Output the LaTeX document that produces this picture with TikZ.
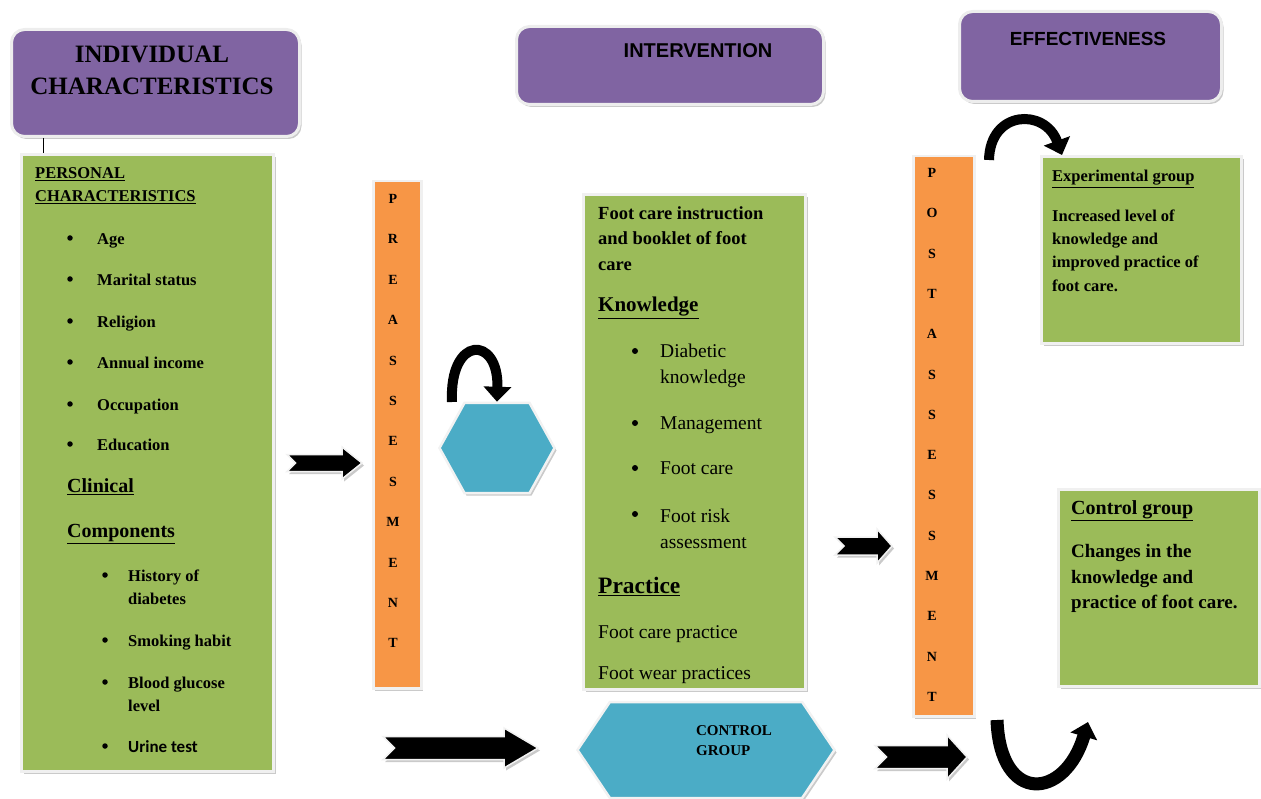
\documentclass[tikz,border=0pt]{standalone}
\usepackage{fontspec}
\setmainfont{Liberation Serif}
\setsansfont{Liberation Sans}
\newfontfamily\calibrifont{Carlito}
\usetikzlibrary{shapes.symbols,shadows,arrows.meta}

\definecolor{headpurple}{HTML}{8064A2}
\definecolor{boxgreen}{HTML}{9BBB59}
\definecolor{barorange}{HTML}{F79646}
\definecolor{hexblue}{HTML}{4BACC6}

\tikzset{
  softshadow/.style={drop shadow={shadow xshift=2pt,shadow yshift=-2.5pt,opacity=.35,fill=black!60}},
  headbox/.style={rectangle, rounded corners=13pt, fill=headpurple, draw=black!7, line width=3pt, softshadow, anchor=north west, inner sep=0pt},
  greenbox/.style={rectangle, fill=boxgreen, draw=black!6, line width=3pt, softshadow, anchor=north west, inner sep=0pt},
  orangebar/.style={rectangle, fill=barorange, draw=black!6, line width=2.5pt, softshadow, anchor=north west, inner sep=0pt},
  hexa/.style={signal, signal to=east and west, fill=hexblue, draw=black!5, line width=2.5pt, softshadow, inner sep=0pt},
  txt/.style={anchor=mid west, inner sep=0pt, yshift=-4.5pt},
  blk/.style={anchor=west, inner sep=0pt, align=left, yshift=-1.5pt},
  dot/.style={circle, fill=black, inner sep=0pt, minimum size=5.5pt},
  letter/.style={inner sep=0pt, font=\fontsize{14}{14}\selectfont\bfseries},
  bendarrow/.style={line width=10pt, -{Triangle[length=15pt,width=27pt]}},
  pics/fatarrow/.style n args={4}{code={
    \filldraw[fill=black, draw=black!5, line width=1.5pt, softshadow]
      (0,-#2) -- (#1-#4,-#2) -- (#1-#4,-#3) -- (#1,0) -- (#1-#4,#3)
      -- (#1-#4,#2) -- (0,#2) -- (#2,0) -- cycle;}}
}

\begin{document}
\begin{tikzpicture}[x=1pt,y=-1pt]
\useasboundingbox (0,0) rectangle (1261,799);

% heading boxes
\node[headbox, minimum width=288pt, minimum height=107pt] (indiv) at (10,28) {};
\node[align=center, font=\fontsize{25}{32}\selectfont\bfseries] (indivtxt) at (152,70) {INDIVIDUAL\\CHARACTERISTICS};
\node[headbox, minimum width=307pt, minimum height=78pt] (interv) at (515,25) {};
\node[font=\fontsize{20}{24}\selectfont\sffamily\bfseries] (intervtxt) at (698,51) {INTERVENTION};
\node[headbox, minimum width=262pt, minimum height=90pt] (effect) at (958,10) {};
\node[font=\fontsize{19}{24}\selectfont\sffamily\bfseries] (effecttxt) at (1088,39) {EFFECTIVENESS};

% left column
\node[greenbox, minimum width=252pt, minimum height=617pt] (leftbox) at (20,153) {};
\draw[line width=1.5pt] ([xshift=33.5pt]indiv.south west) -- ([xshift=23.5pt]leftbox.north west);

\node[txt, font=\fontsize{16.5}{20}\selectfont\bfseries] (pers1) at (35,172) {\underline{PERSONAL}};
\node[txt, font=\fontsize{16.5}{20}\selectfont\bfseries] (pers2) at (35,195) {\underline{CHARACTERISTICS}};
\foreach \lbl/\y [count=\i] in {Age/238,Marital status/279,Religion/321,Annual income/362,Occupation/404,Education/444}{
  \node[dot] (pdot\i) at (70,\y) {};
  \node[txt, font=\fontsize{16.5}{20}\selectfont\bfseries] (pitem\i) at (97,\y) {\lbl};
}
\node[txt, font=\fontsize{20}{24}\selectfont\bfseries] (clin) at (67,486) {\underline{Clinical}};
\node[txt, font=\fontsize{20}{24}\selectfont\bfseries] (comp) at (67,531) {\underline{Components}};
\foreach \y [count=\i] in {575,640,682,746}
  \node[dot] (cdot\i) at (105,\y) {};
\node[blk, font=\fontsize{16.5}{23}\selectfont\bfseries] (citem1) at (128,586) {History of\\diabetes};
\node[txt, font=\fontsize{16.5}{20}\selectfont\bfseries] (citem2) at (128,640) {Smoking habit};
\node[blk, font=\fontsize{16.5}{23}\selectfont\bfseries] (citem3) at (128,693) {Blood glucose\\level};
\node[txt, font=\fontsize{17}{20}\selectfont\calibrifont\bfseries] (citem4) at (128,746) {Urine test};

% pre assessment
\node[orangebar, minimum width=48pt, minimum height=507pt] (prebar) at (372,180) {};
\foreach \l [count=\i] in {P,R,E,A,S,S,E,S,M,E,N,T}
  \node[letter] (pre\i) at (393,199+40.4*\i-40.4) {\l};

% intervention box
\node[greenbox, minimum width=222pt, minimum height=495pt] (midbox) at (582,193) {};
\node[blk, font=\fontsize{18.5}{25.5}\selectfont\bfseries] (instr) at (598,237) {Foot care instruction\\and booklet of foot\\care};
\node[txt, font=\fontsize{21}{24}\selectfont\bfseries] (know) at (598,305) {\underline{Knowledge}};
\foreach \y [count=\i] in {351,423,468,514}
  \node[dot, minimum size=6pt] (mdot\i) at (635,\y) {};
\node[blk, font=\fontsize{19.5}{26}\selectfont] (kitem1) at (660,364) {Diabetic\\knowledge};
\node[txt, font=\fontsize{19.5}{24}\selectfont] (kitem2) at (660,423) {Management};
\node[txt, font=\fontsize{19.5}{24}\selectfont] (kitem3) at (660,468) {Foot care};
\node[blk, font=\fontsize{19.5}{26}\selectfont] (kitem4) at (660,527) {Foot risk\\assessment};
\node[txt, font=\fontsize{23.5}{28}\selectfont\bfseries] (prac) at (598,587) {\underline{Practice}};
\node[txt, font=\fontsize{19.5}{24}\selectfont] (pitemA) at (598,632) {Foot care practice};
\node[txt, font=\fontsize{19.5}{24}\selectfont] (pitemB) at (598,673) {Foot wear practices};

% post assessment
\node[orangebar, minimum width=61pt, minimum height=560pt] (postbar) at (912,155) {};
\foreach \l [count=\i] in {P,O,S,T,A,S,S,E,S,S,M,E,N,T}
  \node[letter] (post\i) at (932,173+40.3*\i-40.3) {\l};

% result boxes
\node[greenbox, minimum width=200pt, minimum height=187pt] (expbox) at (1040,155) {};
\node[txt, font=\fontsize{16.5}{20}\selectfont\bfseries] (exphead) at (1052,175) {\underline{Experimental group}};
\node[blk, font=\fontsize{16.5}{23.3}\selectfont\bfseries] (exptxt) at (1052,249) {Increased level of\\knowledge and\\improved practice of\\foot care.};
\node[greenbox, minimum width=201pt, minimum height=197pt] (ctrlbox) at (1057,488) {};
\node[txt, font=\fontsize{20}{24}\selectfont\bfseries] (ctrlhead) at (1071,508) {\underline{Control group}};
\node[blk, font=\fontsize{19}{25.5}\selectfont\bfseries] (ctrltxt) at (1071,577) {Changes in the\\knowledge and\\practice of foot care.};

% hexagons
\node[hexa, minimum width=115pt, minimum height=90pt, signal pointer angle=122] (hexA) at (497,448) {};
\node[hexa, minimum width=257pt, minimum height=96pt, signal pointer angle=112] (hexB) at (706,750) {};
\node[align=left, font=\fontsize{15}{20}\selectfont\bfseries] (hexBtxt) at (734,741) {CONTROL\\GROUP};

% block arrows
\pic at (287,463) {fatarrow={75}{8.5}{16}{20}};
\pic at (383,748) {fatarrow={155}{11.5}{20}{34}};
\pic at (835,546) {fatarrow={57}{9}{17}{15}};
\pic at (875,757) {fatarrow={92}{11.5}{22}{20}};

% curved arrows
\coordinate (loopA) at (452,402);
\draw[bendarrow] (loopA) .. controls (449,335) and (499,335) .. (hexA.north);
\coordinate (loopB) at (989,160);
\draw[bendarrow] (loopB) .. controls (990,110) and (1045,108) .. ([xshift=22pt]expbox.north west);
\coordinate (uStart) at (997,720);
\coordinate (uEnd) at (1088,722);
\draw[bendarrow, line width=13pt] (uStart) .. controls (1000,805) and (1065,800) .. (uEnd);

\end{tikzpicture}
\end{document}
